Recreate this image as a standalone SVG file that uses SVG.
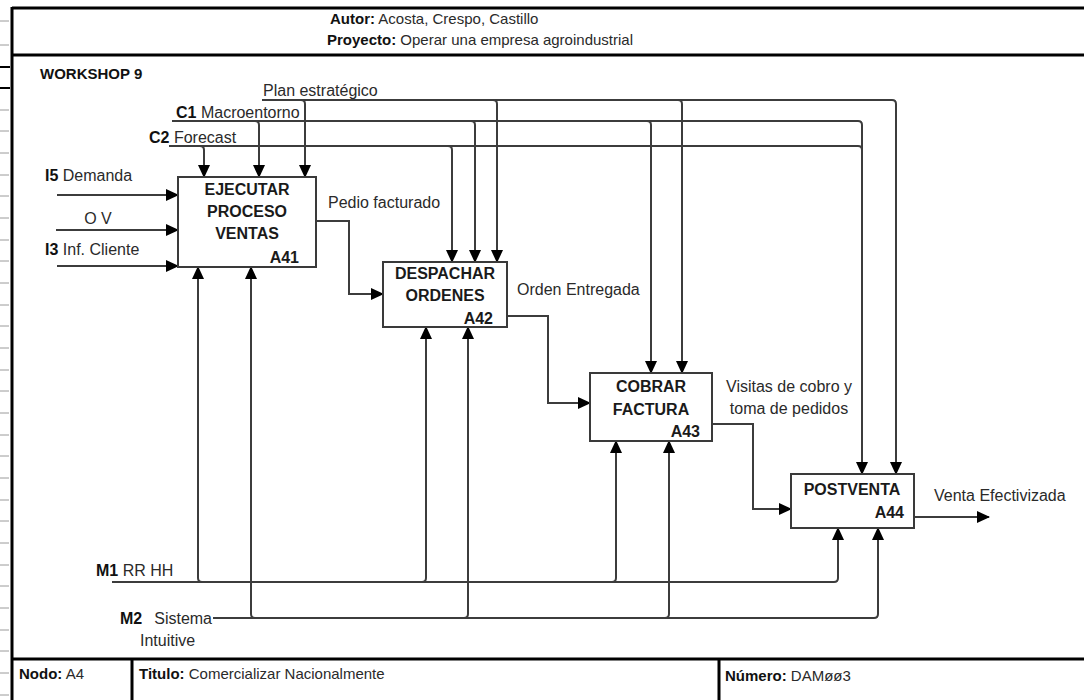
<svg xmlns="http://www.w3.org/2000/svg" width="1084" height="700" viewBox="0 0 1084 700">
  <style>
    text { font-family: "Liberation Sans", Arial, sans-serif; font-size: 16px; fill: #2a2a2a; }
    .b { font-weight: bold; fill: #111; }
    .title { font-weight: bold; font-size: 16px; fill: #1a1a1a; text-anchor: middle; }
    .num { font-weight: bold; font-size: 16px; fill: #1a1a1a; text-anchor: end; }
    .hdr { font-size: 15px; }
    .frame { stroke: #000; stroke-width: 3; fill: none; }
    .box { fill: #fff; stroke: #3a3a3a; stroke-width: 2; }
    .wire { fill: none; stroke: #3c3c3c; stroke-width: 2; }
    .arr { fill: none; stroke: #3c3c3c; stroke-width: 2; marker-end: url(#head); }
    .tick { stroke: #9a9a9a; stroke-width: 1; }
  </style>
  <defs>
    <marker id="head" viewBox="0 0 13 12" refX="12" refY="6" markerUnits="userSpaceOnUse" markerWidth="13" markerHeight="12" orient="auto">
      <path d="M0,0 L13,6 L0,12 Z" fill="#000"/>
    </marker>
  </defs>

  <rect width="1084" height="700" fill="#fff"/>

  <!-- ruler ticks on the left margin -->
  <g id="ruler">
    <path class="tick" d="M0,21H9M0,45H9M0,110H9M0,131H9M0,153H9M0,175H9M0,196H9M0,218H9M0,240H9M0,261H9M0,283H9M0,305H9M0,326H9M0,348H9M0,370H9M0,391H9M0,413H9M0,435H9M0,456H9M0,478H9M0,500H9M0,521H9M0,543H9M0,565H9M0,586H9M0,608H9M0,630H9M0,651H9M0,673H9M0,695H9"/>
    <path d="M0,67H10M0,88H10" stroke="#000" stroke-width="2"/>
  </g>

  <!-- sheet frame: header, body and footer -->
  <g id="frame">
    <path class="frame" d="M12,8H1084M12,55H1084M12,659H1084M12,7V700M132,659V700M719,659V700"/>
    <text class="hdr" x="330" y="24"><tspan class="b">Autor:</tspan> Acosta, Crespo, Castillo</text>
    <text class="hdr" x="327" y="45"><tspan class="b">Proyecto:</tspan> Operar una empresa agroindustrial</text>
    <text class="b" x="40" y="79" style="font-size:15px">WORKSHOP 9</text>
    <text x="19" y="679" style="font-size:15px"><tspan class="b">Nodo:</tspan> A4</text>
    <text x="139" y="679" style="font-size:15px"><tspan class="b">Titulo:</tspan>  Comercializar Nacionalmente</text>
    <text x="725" y="681" style="font-size:15px"><tspan class="b">Número:</tspan> DAMøø3</text>
  </g>

  <!-- boundary labels -->
  <g id="labels">
    <text x="263" y="96">Plan estratégico</text>
    <text x="176" y="118"><tspan class="b">C1</tspan> Macroentorno</text>
    <text x="149" y="143"><tspan class="b">C2</tspan> Forecast</text>
    <text x="45" y="181"><tspan class="b">I5</tspan> Demanda</text>
    <text x="98" y="224" text-anchor="middle">O V</text>
    <text x="45" y="255"><tspan class="b">I3</tspan> Inf. Cliente</text>
    <text x="96" y="576"><tspan class="b">M1</tspan>  RR HH</text>
    <text x="120" y="624"><tspan class="b">M2</tspan></text>
    <text x="212" y="624" text-anchor="end">Sistema</text>
    <text x="140" y="646">Intuitive</text>
    <text x="328" y="208">Pedio facturado</text>
    <text x="517" y="295">Orden Entregada</text>
    <text x="789" y="392" text-anchor="middle">Visitas de cobro y</text>
    <text x="789" y="414" text-anchor="middle">toma de pedidos</text>
    <text x="934" y="501">Venta Efectivizada</text>
  </g>

  <!-- connectors -->
  <g id="connectors">
    <!-- controls -->
    <path class="wire" d="M169,146H858Q862,146 862,150"/>
    <path class="arr" d="M172,121H858Q862,121 862,125V474"/>
    <path class="arr" d="M262,100H892Q896,100 896,104V474"/>
    <path class="arr" d="M200,146Q204,146 204,150V177"/>
    <path class="arr" d="M255,121Q259,121 259,125V177"/>
    <path class="arr" d="M301,100Q305,100 305,104V177"/>
    <path class="arr" d="M448,146Q452,146 452,150V262"/>
    <path class="arr" d="M471,121Q475,121 475,125V262"/>
    <path class="arr" d="M493,100Q497,100 497,104V262"/>
    <path class="arr" d="M647,121Q651,121 651,125V373"/>
    <path class="arr" d="M678,100Q682,100 682,104V373"/>
    <!-- inputs -->
    <path class="arr" d="M57,195H178"/>
    <path class="arr" d="M56,230H178"/>
    <path class="arr" d="M57,266H178"/>
    <!-- outputs between activities -->
    <path class="arr" d="M316,221H349V294H383"/>
    <path class="arr" d="M507,316H548V403H590"/>
    <path class="arr" d="M712,424H753V509H791"/>
    <path class="arr" d="M914,517H989"/>
    <!-- mechanisms -->
    <path class="arr" d="M112,582H834Q838,582 838,578V528"/>
    <path class="arr" d="M213,618H874Q878,618 878,614V528"/>
    <path class="arr" d="M202,582Q198,582 198,578V267"/>
    <path class="arr" d="M255,618Q251,618 251,614V267"/>
    <path class="arr" d="M422,582Q426,582 426,578V327"/>
    <path class="arr" d="M464,618Q468,618 468,614V327"/>
    <path class="arr" d="M612,582Q616,582 616,578V441"/>
    <path class="arr" d="M665,618Q669,618 669,614V441"/>
  </g>

  <!-- activities -->
  <g id="A41">
    <rect class="box" x="178" y="177" width="138" height="90"/>
    <text class="title" x="247" y="195">EJECUTAR</text>
    <text class="title" x="247" y="217">PROCESO</text>
    <text class="title" x="247" y="239">VENTAS</text>
    <text class="num" x="299" y="263">A41</text>
  </g>
  <g id="A42">
    <rect class="box" x="383" y="262" width="124" height="65"/>
    <text class="title" x="445" y="279">DESPACHAR</text>
    <text class="title" x="445" y="301">ORDENES</text>
    <text class="num" x="493" y="324">A42</text>
  </g>
  <g id="A43">
    <rect class="box" x="590" y="373" width="122" height="68"/>
    <text class="title" x="651" y="392">COBRAR</text>
    <text class="title" x="651" y="415">FACTURA</text>
    <text class="num" x="700" y="437">A43</text>
  </g>
  <g id="A44">
    <rect class="box" x="791" y="474" width="123" height="54"/>
    <text class="title" x="852" y="495">POSTVENTA</text>
    <text class="num" x="904" y="518">A44</text>
  </g>
</svg>
